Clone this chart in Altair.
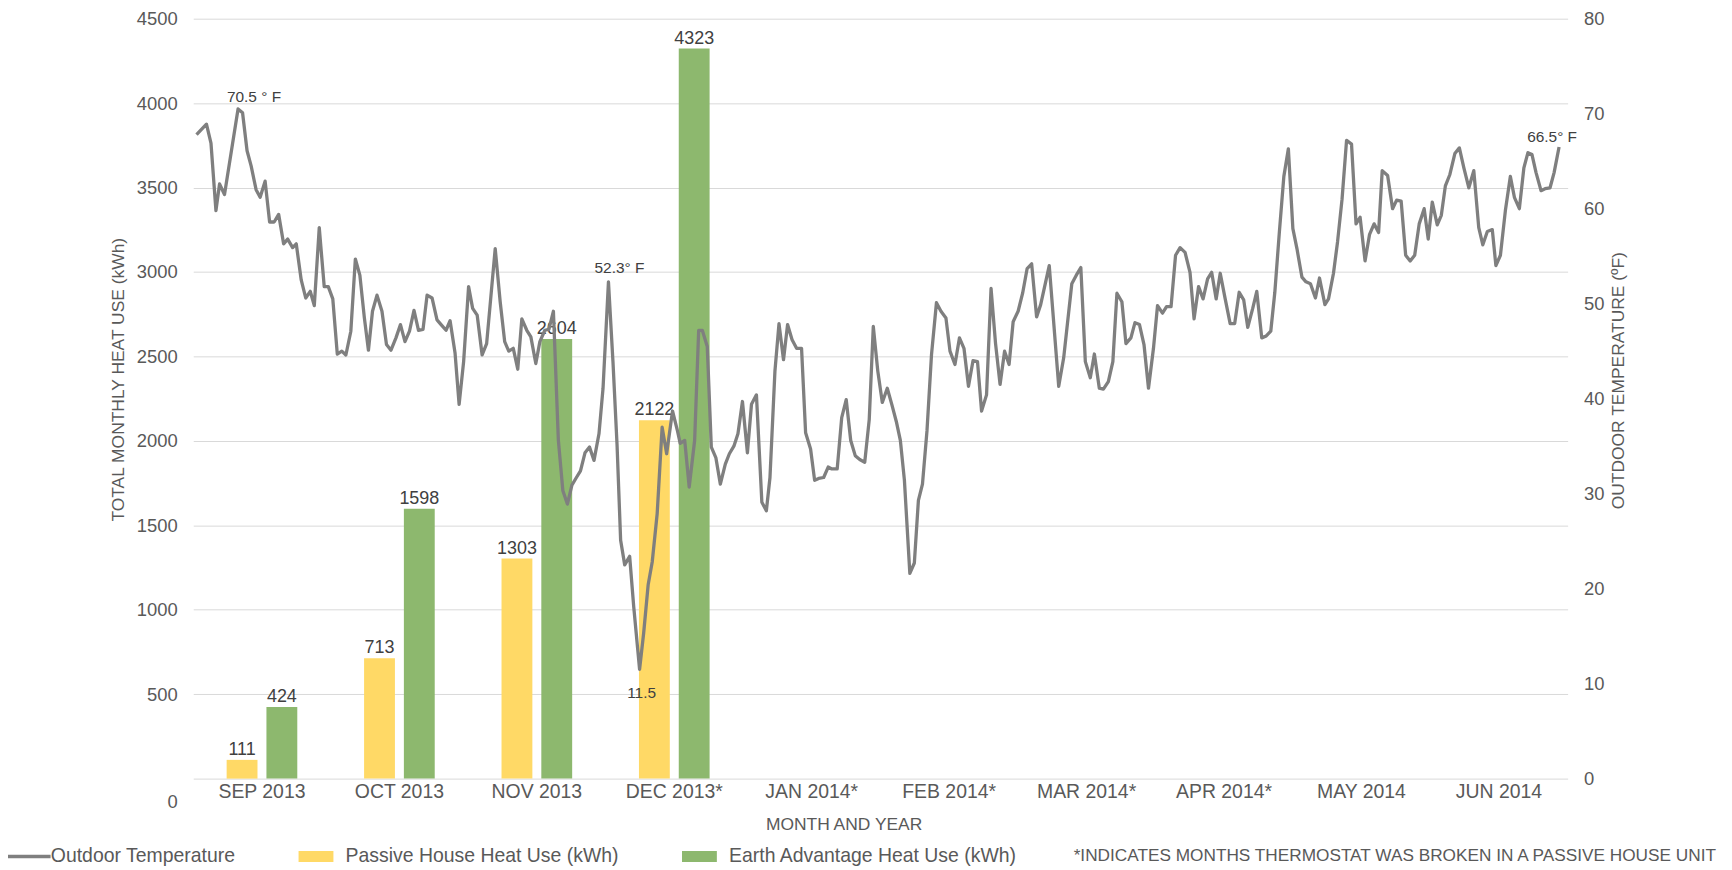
import altair as alt
import pandas as pd

# ---------------- data ----------------
months = ["SEP 2013", "OCT 2013", "NOV 2013", "DEC 2013*", "JAN 2014*",
          "FEB 2014*", "MAR 2014*", "APR 2014*", "MAY 2014", "JUN 2014"]
bar_months = ["SEP 2013", "OCT 2013", "NOV 2013", "DEC 2013*"]
passive_kwh = [111, 713, 1303, 2122]
earth_kwh = [424, 1598, 2604, 4323]
heat_ticks = [0, 500, 1000, 1500, 2000, 2500, 3000, 3500, 4000, 4500]
temp_ticks = [0, 10, 20, 30, 40, 50, 60, 70, 80]

# days since 1 Sep 2013
temp_day = [
    0.0, 2.2, 3.2, 4.3, 5.1, 6.2, 9.2, 10.2, 11.2, 12.1,
    13.2, 14.1, 15.2, 16.2, 17.2, 18.2, 19.3, 20.2, 21.3, 22.1,
    23.2, 24.2, 25.2, 26.1, 27.2, 28.3, 29.2, 30.2, 31.2, 32.2,
    33.1, 34.2, 35.2, 36.2, 37.2, 38.1, 39.0, 40.0, 41.1, 42.1,
    43.1, 44.2, 45.2, 46.2, 47.2, 48.2, 49.2, 50.2, 51.1, 52.2,
    53.3, 54.2, 55.3, 56.2, 57.3, 58.2, 59.2, 60.3,
    61.2, 62.2, 63.3, 64.3, 66.2, 67.3, 68.3, 69.2, 70.2, 71.2,
    72.1, 73.2, 74.1, 75.2, 76.1, 77.2, 78.1, 79.1, 80.2, 81.2,
    82.2, 83.2, 84.2, 85.1, 86.1, 87.1, 88.1, 89.2, 90.1, 91.3,
    92.3, 93.2, 94.0, 94.9, 96.0, 96.9, 98.2, 99.1, 100.1, 101.0,
    102.1, 103.2, 104.2, 105.5, 106.6, 107.2, 108.2, 109.2, 110.4, 111.3,
    112.1, 113.2, 114.1, 115.1, 116.1, 117.2, 118.1, 119.1, 120.0, 121.0,
    122.1, 123.0, 124.1, 125.3, 126.3, 127.1, 128.2, 129.1, 130.1, 131.0,
    132.0, 133.0, 134.1, 135.0, 136.1, 137.0, 137.9, 139.0, 140.0, 140.8,
    142.0, 143.0, 144.0, 145.0, 146.0, 147.0, 148.1, 149.1, 150.0, 151.0,
    152.0, 153.1, 154.1, 155.1, 156.0, 156.9, 158.1, 159.1, 160.0, 160.9,
    161.9, 162.9, 164.0, 165.0, 166.1, 167.0, 168.1, 169.1, 170.1, 171.1,
    172.1, 173.1, 174.0, 175.1, 176.1, 177.1, 178.1, 179.1, 180.1, 181.0,
    182.1, 183.1, 184.1, 185.1, 186.2, 187.1, 189.0, 191.1, 192.2, 194.0,
    195.0, 196.0, 197.0, 198.1, 199.0, 200.1, 201.0, 202.1, 203.1, 204.0,
    205.1, 206.0, 207.1, 208.0, 209.0, 210.0, 211.0, 212.1, 213.0, 214.1,
    215.0, 216.0, 217.0, 218.0, 219.1, 220.2, 221.1, 222.1, 223.1, 224.1,
    225.0, 226.0, 226.9, 228.0, 229.1, 230.1, 231.1, 232.1, 233.0, 234.1,
    235.0, 236.1, 237.1, 238.1, 239.0, 240.0, 241.0, 242.0, 243.0, 243.9,
    245.0, 245.9, 246.9, 248.0, 248.9, 250.1, 250.9, 252.0, 252.9, 253.9,
    254.9, 256.0, 257.0, 257.9, 259.0, 260.0, 261.0, 262.0, 262.8, 264.0,
    265.1, 266.0, 267.0, 268.0, 269.0, 270.0, 271.0, 272.1, 273.0, 273.9,
    275.0, 275.9, 276.8, 277.8, 278.9, 279.9, 280.9, 282.0, 283.1, 284.2,
    285.1, 286.1, 287.2, 288.0, 289.0, 290.1, 291.2, 292.1, 293.2, 294.2,
    295.1, 296.0, 296.9, 298.0, 298.9, 300.0, 300.9, 302.0,
]
temp_f = [
    67.8, 68.9, 66.9, 59.8, 62.6, 61.5, 70.5, 70.1, 66.1, 64.5,
    62.0, 61.2, 62.9, 58.6, 58.6, 59.4, 56.3, 56.8, 55.9, 56.3,
    52.5, 50.6, 51.3, 49.8, 58.0, 51.8, 51.8, 50.5, 44.7, 45.0,
    44.6, 47.1, 54.7, 53.0, 48.5, 45.1, 49.2, 50.9, 49.2, 45.7,
    45.1, 46.4, 47.8, 46.0, 47.1, 49.3, 47.2, 47.3, 50.9, 50.6,
    48.3, 47.8, 47.2, 48.2, 44.8, 39.4, 43.9, 51.8,
    49.5, 48.8, 44.6, 45.8, 55.8, 50.2, 46.0, 45.0, 45.3, 43.1,
    48.4, 47.2, 46.5, 43.7, 46.0, 47.2, 47.3, 49.2, 35.6, 30.3,
    28.9, 30.9, 31.7, 32.4, 34.3, 34.9, 33.5, 36.3, 41.1, 52.3,
    43.9, 35.2, 25.1, 22.5, 23.4, 18.1, 11.5, 15.3, 20.4, 22.8,
    27.9, 37.0, 34.2, 38.7, 36.6, 35.3, 35.6, 30.7, 35.6, 47.2,
    47.2, 45.5, 34.9, 33.8, 31.0, 33.1, 34.2, 35.0, 36.3, 39.7,
    34.3, 39.4, 40.4, 29.1, 28.2, 31.7, 42.9, 47.9, 44.1, 47.8,
    46.2, 45.3, 45.3, 36.4, 34.7, 31.4, 31.6, 31.7, 32.8, 32.6,
    32.6, 38.0, 39.9, 35.6, 34.0, 33.6, 33.3, 37.8, 47.6, 42.9,
    39.6, 41.1, 39.4, 37.6, 35.6, 31.4, 21.6, 22.7, 29.3, 31.0,
    36.6, 44.6, 50.1, 49.2, 48.5, 45.0, 43.6, 46.4, 45.3, 41.3,
    44.0, 43.9, 38.7, 40.4, 51.6, 45.8, 41.5, 45.0, 43.6, 48.1,
    49.2, 51.1, 53.7, 54.2, 48.6, 49.9, 54.0, 41.3, 44.3, 52.1,
    53.0, 53.8, 43.9, 42.2, 44.7, 41.1, 41.0, 41.8, 43.9, 51.1,
    50.2, 45.8, 46.4, 48.0, 47.8, 45.7, 41.1, 45.3, 49.8, 49.0,
    49.7, 49.7, 55.1, 55.9, 55.4, 53.3, 48.4, 51.8, 50.5, 52.6,
    53.3, 50.5, 53.2, 50.5, 47.9, 47.9, 51.2, 50.4, 47.5, 49.5,
    51.3, 46.4, 46.6, 47.1, 51.2, 57.5, 63.4, 66.3, 57.9, 55.8,
    52.8, 52.3, 52.1, 50.6, 52.7, 49.9, 50.5, 53.2, 56.5, 61.0,
    67.2, 66.8, 58.4, 59.1, 54.5, 57.3, 58.4, 57.5, 64.0, 63.5,
    60.0, 60.9, 60.8, 55.1, 54.5, 55.1, 58.4, 60.0, 56.8, 60.7,
    58.3, 59.3, 62.4, 63.6, 65.8, 66.4, 64.3, 62.2, 64.0, 58.0,
    56.2, 57.6, 57.8, 54.0, 55.1, 59.8, 63.4, 61.2, 60.0, 64.3,
    65.9, 65.7, 63.8, 61.9, 62.1, 62.2, 63.8, 66.5,
]

ann_day = [9.2, 91.3, 98.2, 302.0]
ann_temp = [70.5, 52.3, 11.5, 66.5]
ann_text = ["70.5 ° F", "52.3° F", "11.5", "66.5° F"]

TEMP = "Outdoor Temperature"
PASSIVE = "Passive House Heat Use (kWh)"
EARTH = "Earth Advantage Heat Use (kWh)"
series_names = [TEMP, PASSIVE, EARTH]
footnote = "*INDICATES MONTHS THERMOSTAT WAS BROKEN IN A PASSIVE HOUSE UNIT"

# ---------------- styles ----------------
FONT = "Liberation Sans, Arial, sans-serif"
GRAY = "#7f7f7f"
YELLOW = "#ffd966"
GREEN = "#8db86e"
TXT = "#595959"
DARK = "#404040"
ann_dx = [16, 11, 2, -7]
ann_dy = [-12, -14, 24, -10]
LINE_SYM = "M-5.9,-0.35H5.9V0.35H-5.9Z"
RECT_SYM = "M-3.5,-1.1H3.5V1.1H-3.5Z"

# ---------------- tables ----------------
bar_df = pd.DataFrame({
    "month": bar_months * 2,
    "series": [PASSIVE] * len(bar_months) + [EARTH] * len(bar_months),
    "kwh": passive_kwh + earth_kwh,
})
temp_df = pd.DataFrame({"day": temp_day, "temp": temp_f})
ann_df = pd.DataFrame({"day": ann_day, "temp": ann_temp, "label": ann_text,
                       "idx": list(range(len(ann_text)))})
legend_df = pd.DataFrame({"series": series_names})
note_df = pd.DataFrame({"t": [footnote]})

month_scale = alt.Scale(type="band", domain=months, paddingInner=0.486, paddingOuter=0.243)
off_scale = alt.Scale(type="band", domain=[PASSIVE, EARTH], paddingInner=0.225, paddingOuter=0)
heat_scale = alt.Scale(domain=[0, 4500], nice=False)
day_scale = alt.Scale(domain=[-0.73, 303.9], nice=False, zero=False)
temp_scale = alt.Scale(domain=[0, 80], nice=False)

# ---------------- bars ----------------
x_bar = alt.X("month:N", sort=months, scale=month_scale,
              axis=alt.Axis(title="MONTH AND YEAR", labelAngle=0, ticks=False,
                            domain=False, labelFontSize=19.5, labelPadding=4,
                            titleFontSize=17.5, titleX=653, titleY=46,
                            titleAlign="center", titleBaseline="middle"))
y_bar = alt.Y("kwh:Q", scale=heat_scale,
              axis=alt.Axis(values=heat_ticks, format="d",
                            title="TOTAL MONTHLY HEAT USE (kWh)",
                            grid=True, gridColor="#d9d9d9", gridWidth=1,
                            ticks=False, domain=False, labelFontSize=18.5,
                            labelPadding=16,
                            labelOffset={"condition": {"test": "datum.value === 0", "value": 23}, "value": 0},
                            titleFontSize=17.5, titlePadding=9, titleY=362,
                            titleAlign="center", titleBaseline="bottom"))

bars = alt.Chart(bar_df).mark_bar().encode(
    x=x_bar,
    xOffset=alt.XOffset("series:N", scale=off_scale),
    y=y_bar,
    color=alt.condition(alt.datum.series == PASSIVE, alt.value(YELLOW), alt.value(GREEN)),
)
bar_text = alt.Chart(bar_df).mark_text(
    baseline="bottom", dy=-1, fontSize=18, font=FONT, color=DARK
).encode(
    x=alt.X("month:N", sort=months, scale=month_scale, axis=None),
    xOffset=alt.XOffset("series:N", scale=off_scale),
    y=alt.Y("kwh:Q", scale=heat_scale, axis=None),
    text=alt.Text("kwh:Q", format="d"),
)

# ---------------- temperature ----------------
line = alt.Chart(temp_df).mark_line(
    color=GRAY, strokeWidth=3.3, strokeJoin="round"
).encode(
    x=alt.X("day:Q", scale=day_scale, axis=None),
    y=alt.Y("temp:Q", scale=temp_scale,
            axis=alt.Axis(orient="right", values=temp_ticks,
                          title="OUTDOOR TEMPERATURE (ºF)", grid=False,
                          ticks=False, domain=False, labelFontSize=18.5,
                          labelPadding=16, titleFontSize=17.5, titleAngle=270,
                          titleBaseline="top", titlePadding=6, titleY=363)),
)

ann_layers = []
for i in range(len(ann_text)):
    ann_layers.append(
        alt.Chart(ann_df).transform_filter(alt.datum.idx == i).mark_text(
            dx=ann_dx[i], dy=ann_dy[i], fontSize=15.5, font=FONT, color=DARK
        ).encode(
            x=alt.X("day:Q", scale=day_scale, axis=None),
            y=alt.Y("temp:Q", scale=temp_scale, axis=None),
            text="label:N",
        )
    )

leg = alt.Legend(title=None, orient="none", legendX=-182.5, legendY=831,
                 direction="horizontal", columns=3, symbolSize=100,
                 symbolStrokeWidth=0, symbolOpacity=1, labelFontSize=19.5,
                 labelFont=FONT, labelColor=TXT, labelOffset=20,
                 labelLimit=500, columnPadding=63)
legend_layer = alt.Chart(legend_df).transform_filter("false").mark_point(
    filled=True, size=100, opacity=1
).encode(
    color=alt.Color("series:N",
                    scale=alt.Scale(domain=series_names, range=[GRAY, YELLOW, GREEN]),
                    legend=leg),
    shape=alt.Shape("series:N", scale=alt.Scale(domain=series_names,
                                                range=[LINE_SYM, RECT_SYM, RECT_SYM]),
                    legend=leg),
)

note = alt.Chart(note_df).mark_text(
    align="left", baseline="middle", fontSize=17.3, font=FONT, color=TXT
).encode(x=alt.value(884), y=alt.value(841), text="t:N")

chart = alt.layer(bars, bar_text, line, *ann_layers, legend_layer, note).resolve_scale(
    x="independent", y="independent", xOffset="independent"
).properties(
    width=1380, height=763,
    padding={"left": 3, "top": 0, "right": 5, "bottom": 0},
    background="white",
).configure_view(stroke=None).configure_axis(
    labelFont=FONT, titleFont=FONT, labelColor=TXT, titleColor=TXT,
    titleFontWeight="normal"
)

chart.save("out.html", embed_options={"renderer": "svg", "actions": False})
